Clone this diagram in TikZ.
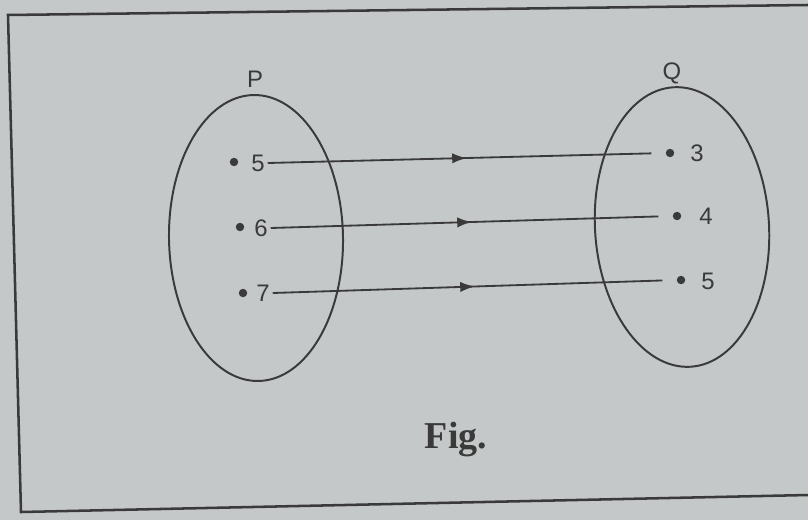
\documentclass[tikz,border=0pt]{standalone}
\usepackage{fontspec}
\setmainfont{Liberation Serif}
\newfontfamily\numfont{Liberation Sans}
\usetikzlibrary{arrows.meta, positioning, decorations.markings}
\definecolor{PaperGrey}{RGB}{197,200,200}
\definecolor{InkGrey}{RGB}{58,58,58}

\begin{document}
\begin{tikzpicture}[
        x=0.025cm, y=-0.025cm,
        frame/.style={line width=1.8pt, InkGrey},
        setline/.style={line width=1.4pt, InkGrey},
        pt/.style={circle, fill=InkGrey, inner sep=0pt, minimum size=6pt},
        numlbl/.style={font=\numfont\fontsize{17}{20}\selectfont, text=InkGrey, inner sep=2pt},
        setlbl/.style={font=\numfont\fontsize{17}{20}\selectfont, text=InkGrey},
        mapline/.style={line width=1.3pt, InkGrey, shorten >=10pt,
          postaction={decorate},
          decoration={markings, mark=at position 0.5 with {\arrow{Latex[length=3.6mm, width=2.6mm]}}}},
      ]
        % ---- paper ----
        \fill[PaperGrey] (0,0) rectangle (808,520);
        \useasboundingbox (0,0) rectangle (808,520);
        \draw[frame] (808,5) -- (8,15) -- (21,512) -- (808,495);
        % ---- set P ----
        \draw[setline, rotate around={1:(256,238)}] (256,238) ellipse [x radius=87, y radius=143];
        \node[setlbl] (P) at (255,79) {P};
        \node[pt] (p5dot) at (234,162) {};
        \node[pt] (p6dot) at (240,227) {};
        \node[pt] (p7dot) at (243,293) {};
        \node[numlbl] (p5) at (258,163) {5};
        \node[numlbl] (p6) at (261,228) {6};
        \node[numlbl] (p7) at (263,293) {7};
        % ---- set Q ----
        \draw[setline, rotate around={3.5:(682,227)}] (682,227) ellipse [x radius=87, y radius=140];
        \node[setlbl] (Q) at (672,73) {Q};
        \node[pt] (q3dot) at (670,153) {};
        \node[pt] (q4dot) at (677,216) {};
        \node[pt] (q5dot) at (681,280) {};
        \node[numlbl] (q3) at (697,153) {3};
        \node[numlbl] (q4) at (706,216) {4};
        \node[numlbl] (q5) at (708,281) {5};
        % ---- mapping ----
        \draw[mapline] (p5.east) -- (q3dot.west);
        \draw[mapline] (p6.east) -- (q4dot.west);
        \draw[mapline] (p7.east) -- (q5dot.west);
        % ---- caption ----
        \node[font=\bfseries\fontsize{27}{30}\selectfont, text=InkGrey] (cap) at (456,440) {Fig.};
      \end{tikzpicture}
\end{document}
